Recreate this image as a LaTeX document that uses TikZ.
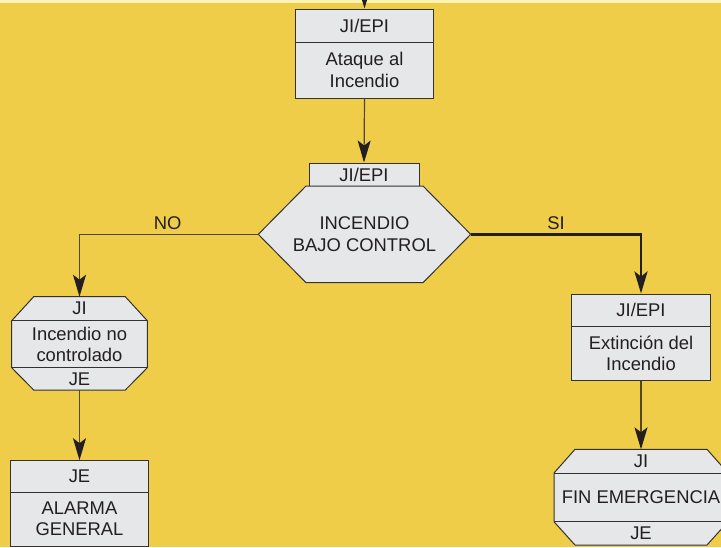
\documentclass[tikz,border=0pt]{standalone}
\usepackage{fontspec}
\setmainfont{Liberation Sans}
\usetikzlibrary{arrows.meta}
\definecolor{bgyellow}{RGB}{239,205,72}
\definecolor{pale}{RGB}{252,243,180}
\definecolor{boxfill}{RGB}{230,231,232}
\definecolor{edge}{RGB}{50,50,50}
\definecolor{ink}{RGB}{35,31,32}
\definecolor{wirecol}{RGB}{85,70,35}
\begin{document}
\begin{tikzpicture}[x=1pt,y=-1pt,
  txt/.style={font=\fontsize{18.4}{21.3}\selectfont, text=ink, align=center, inner sep=0pt},
  frame/.style={draw=edge, line width=1pt, fill=boxfill},
  hold/.style={draw=none, inner sep=0pt, outer sep=0pt},
  sepline/.style={draw=edge, line width=1pt},
  wire/.style={draw=wirecol, line width=1.2pt},
  boldwire/.style={draw=ink, line width=2.8pt},
  tip/.style={-{Stealth[length=22pt,width=13pt,inset=5pt,color=ink]}}
]
\useasboundingbox (0,0) rectangle (721,547);
\fill[bgyellow] (0,0) rectangle (721,547);
\clip (0,0) rectangle (721,547);
\fill[pale] (0,0) rectangle (721,3);

% top box
\node[frame, inner sep=0pt, minimum width=138pt, minimum height=89pt] (ataque) at (364.5,53.5) {};
\draw[sepline] (295.5,42.5) -- (433.5,42.5);
\node[txt] (ataqueh) at (364.5,25.75) {JI/EPI};
\node[txt] (ataqueb) at (364.5,70) {Ataque al\\Incendio};

% decision hexagon
\node[frame, inner sep=0pt, minimum width=110pt, minimum height=23pt] (tab) at (364,174.5) {};
\node[txt] (tabt) at (364,174.5) {JI/EPI};
\path[frame] (306,186) -- (423,186) -- (470.7,234.3) -- (423,282.7) -- (306,282.7) -- (258.3,234.3) -- cycle;
\node[hold, minimum width=212.4pt, minimum height=96.7pt] (decision) at (364.5,234.3) {};
\node[txt] (decisiont) at (364.5,234.3) {INCENDIO\\BAJO CONTROL};

% left octagon
\path[frame] (33.7,296.7) -- (125.3,296.7) -- (147.3,320.7) -- (147.3,367.7) -- (125.3,390) -- (33.7,390) -- (11.7,367.7) -- (11.7,320.7) -- cycle;
\draw[sepline] (11.7,320.7) -- (147.3,320.7);
\draw[sepline] (11.7,367.7) -- (147.3,367.7);
\node[hold, minimum width=135.6pt, minimum height=93.3pt] (nocontrol) at (79.5,343.35) {};
\node[txt] (nocontrolh) at (79.5,308.7) {JI};
\node[txt] (nocontrolb) at (79.5,344.2) {Incendio no\\controlado};
\node[txt] (nocontrolf) at (79.5,378.8) {JE};

% left bottom box
\node[frame, inner sep=0pt, minimum width=138pt, minimum height=85.8pt] (alarma) at (79.5,503.6) {};
\draw[sepline] (10.5,492.7) -- (148.5,492.7);
\node[txt] (alarmah) at (79.5,476.7) {JE};
\node[txt] (alarmab) at (79.5,518.5) {ALARMA\\GENERAL};

% right box
\node[frame, inner sep=0pt, minimum width=138.3pt, minimum height=86pt] (extincion) at (641,337) {};
\draw[sepline] (571.85,326) -- (710.15,326);
\node[txt] (extincionh) at (641,310) {JI/EPI};
\node[txt] (extincionb) at (641,353) {Extinción del\\Incendio};

% right octagon
\path[frame] (575,449.3) -- (707,449.3) -- (728,473) -- (728,521.7) -- (707,545) -- (575,545) -- (554,521.7) -- (554,473) -- cycle;
\draw[sepline] (554,473) -- (728,473);
\draw[sepline] (554,521.7) -- (728,521.7);
\node[hold, minimum width=174pt, minimum height=95.7pt] (fin) at (641,497.15) {};
\node[txt] (finh) at (641,461) {JI};
\node[txt] (finb) at (641,497.3) {FIN EMERGENCIA};
\node[txt] (finf) at (641,533.3) {JE};

% connectors
\coordinate (entry) at (364.5,-15);
\draw[wire, tip] (entry) -- (ataque.north);
\draw[wire, tip] (ataque.south) -- (tab.north);
\draw[wire, tip] (decision.west) -| (nocontrol.north);
\draw[boldwire, tip] (decision.east) -| (extincion.north);
\draw[wire, tip] (nocontrol.south) -- (alarma.north);
\draw[wire, tip] (extincion.south) -- (fin.north);

\node[txt] (nolabel) at (167.7,222.7) {NO};
\node[txt] (silabel) at (556,222.7) {SI};
\end{tikzpicture}
\end{document}
